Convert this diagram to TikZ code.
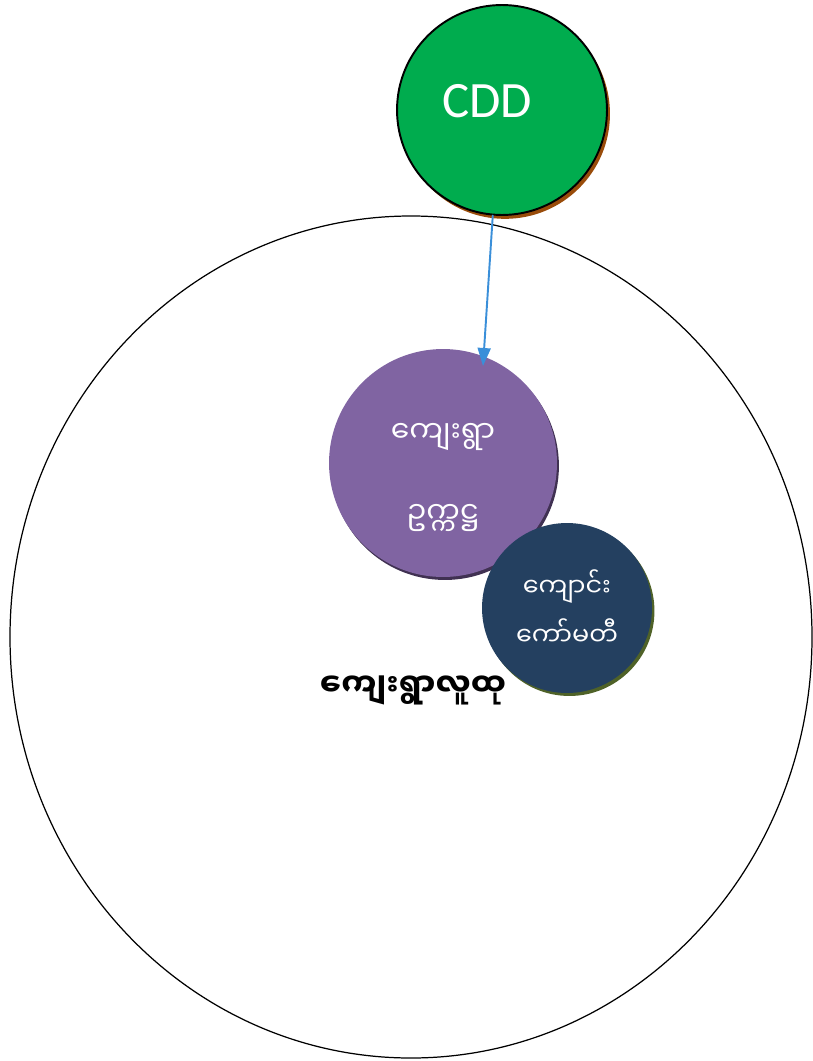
\documentclass[tikz,border=0pt]{standalone}
\usepackage{fontspec}
\setmainfont{Carlito}
\newfontfamily\mmfont[Script=Myanmar]{Noto Sans Myanmar UI}
\usetikzlibrary{shadows,arrows.meta}
\definecolor{cddgreen}{RGB}{0,172,78}
\definecolor{cddshade}{RGB}{153,76,10}
\definecolor{chairfill}{RGB}{128,100,162}
\definecolor{chairshade}{RGB}{64,49,82}
\definecolor{schoolfill}{RGB}{36,64,96}
\definecolor{schoolshade}{RGB}{79,98,40}
\definecolor{linkblue}{RGB}{58,143,217}
\begin{document}
\begin{tikzpicture}[x=0.02cm, y=-0.02cm, line join=round, line cap=round, >={Triangle[length=3.6mm,width=2.6mm]},
	ball/.style={circle, inner sep=0pt},
	mmtext/.style={font=\mmfont\fontsize{#1}{#1}\selectfont, inner sep=0pt, text=white}]
			\useasboundingbox (0,0) rectangle (812,1061);
			\draw[line width=0.7pt] (411,637) ellipse[x radius=401, y radius=421];
			\node[ball, minimum size=4.2cm, fill=cddgreen, draw=black, line width=1.1pt,
				general shadow={fill=cddshade, shadow xshift=1.7pt, shadow yshift=-2.2pt}] (cdd) at (502,110) {};
			\node[inner sep=0pt, text=white, font=\fontsize{29}{32}\selectfont] (cddtext) at (487,101) {CDD};
			\node[ball, minimum size=4.56cm, fill=chairfill,
				general shadow={fill=chairshade, shadow xshift=1.1pt, shadow yshift=-1.7pt}] (chair) at (443,463) {};
			\node[mmtext=17] (chairtop) at (443,437) {ကျေးရွာ};
			\node[mmtext=17] (chairbot) at (443,518) {ဥက္ကဋ္ဌ};
			\node[ball, minimum width=3.4cm, minimum height=3.28cm, fill=schoolfill,
				general shadow={fill=schoolshade, shadow xshift=1.4pt, shadow yshift=-1.7pt}] (school) at (567,608) {};
			\node[mmtext=14.5] (schooltop) at (567,587) {ကျောင်း};
			\node[mmtext=14.5] (schoolbot) at (567,632) {ကော်မတီ};
			\node[inner sep=0pt, text=black, font=\mmfont\bfseries\fontsize{18}{18}\selectfont] (village) at (413,690) {ကျေးရွာလူထု};
			\coordinate (tip) at (483,366);
			\draw[->, linkblue, line width=1.1pt] (cdd.-95)--(tip);
			\end{tikzpicture}
\end{document}
